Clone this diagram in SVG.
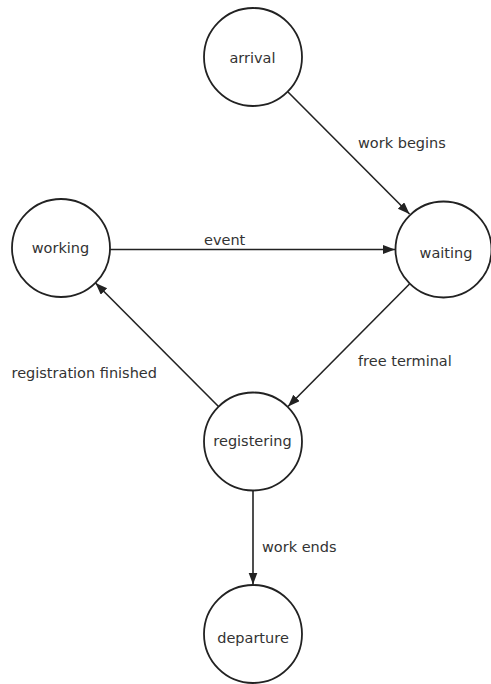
<svg xmlns="http://www.w3.org/2000/svg" width="491" height="684" viewBox="0 0 491 684">
<style>
.node circle{fill:#fff;stroke:#222;stroke-width:1.8}
text{font-family:"DejaVu Sans",Verdana,sans-serif;font-size:14.5px;fill:#333}
.node text{text-anchor:middle}
.edges line{stroke:#222;stroke-width:1.6;marker-end:url(#arr)}
</style>
<defs>
<marker id="arr" markerUnits="userSpaceOnUse" markerWidth="13" markerHeight="10" refX="12" refY="4.5" orient="auto">
<path d="M0,0 L12,4.5 L0,9 z" fill="#222"/>
</marker>
</defs>
<rect width="491" height="684" fill="#fff"/>
<g class="edges">
<line x1="288" y1="92" x2="409.5" y2="214"/>
<line x1="110" y1="249.5" x2="395" y2="249.5"/>
<line x1="409.5" y1="284" x2="288" y2="406.5"/>
<line x1="218.5" y1="406.5" x2="95.5" y2="283"/>
<line x1="253" y1="490.5" x2="253" y2="584.5"/>
<text x="358" y="148">work begins</text>
<text x="204" y="245">event</text>
<text x="358" y="366">free terminal</text>
<text x="11.5" y="378">registration finished</text>
<text x="262" y="552">work ends</text>
</g>
<g id="arrival" class="node"><circle cx="253" cy="57" r="49"/><text x="252.5" y="62.5">arrival</text></g>
<g id="working" class="node"><circle cx="61" cy="248" r="49"/><text x="60.5" y="253">working</text></g>
<g id="waiting" class="node"><circle cx="443.5" cy="249.5" r="48"/><text x="446" y="258">waiting</text></g>
<g id="registering" class="node"><circle cx="253" cy="441.5" r="49"/><text x="252.5" y="445.5">registering</text></g>
<g id="departure" class="node"><circle cx="253" cy="634" r="49"/><text x="253" y="642.5">departure</text></g>
</svg>
